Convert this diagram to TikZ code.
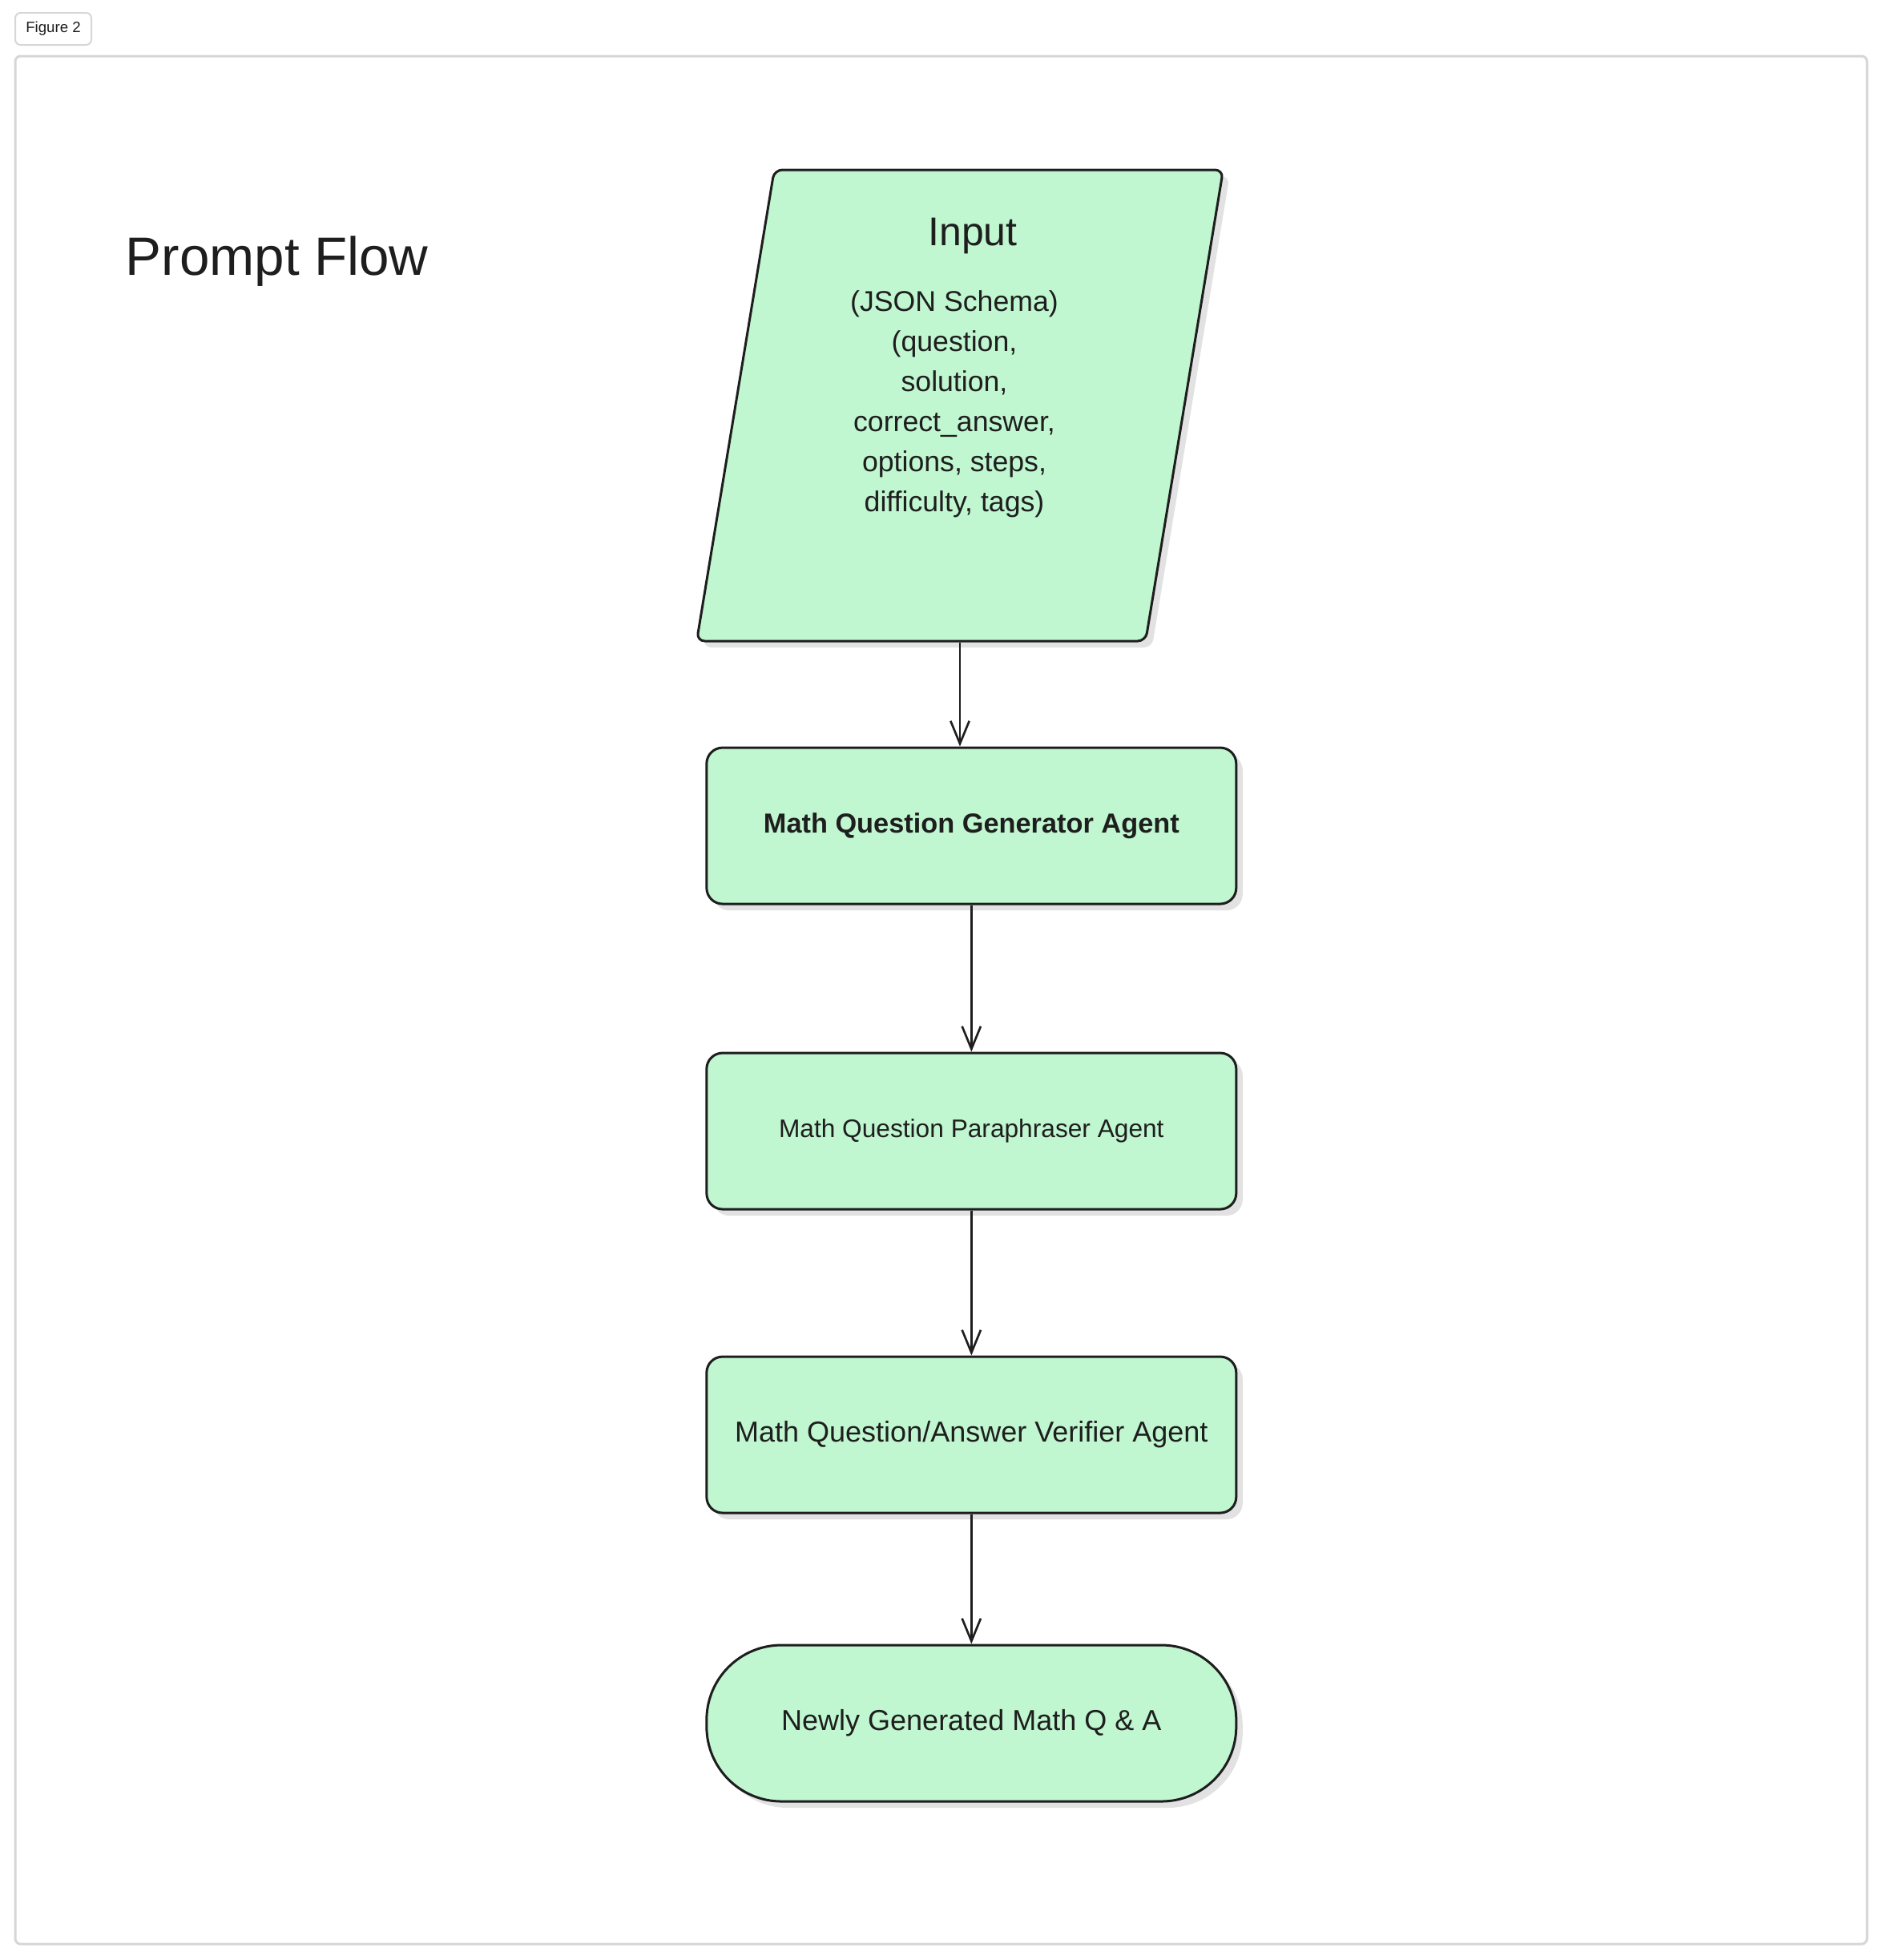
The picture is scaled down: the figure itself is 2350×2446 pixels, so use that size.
\documentclass[tikz,border=0pt]{standalone}
\usepackage{fontspec}
\setmainfont{Liberation Sans}
\usepackage{xcolor}
\usepackage{tikz}
\usetikzlibrary{arrows.meta,positioning,shapes.geometric,shadows}
\definecolor{mint}{HTML}{C0F6D0}
\definecolor{ink}{HTML}{1E1E1E}
\definecolor{framegray}{HTML}{D6D6D6}
\definecolor{shade}{HTML}{E2E2E2}
\tikzset{
  flowshadow/.style={
    drop shadow={shadow xshift=2.4pt, shadow yshift=-2.4pt, fill=shade, opacity=1}
  },
  flowbox/.style={
    rectangle, draw=ink, fill=mint, line width=0.9pt,
    rounded corners=6pt, flowshadow,
    minimum width=198.3pt, minimum height=58.5pt,
    align=center, text=ink, inner sep=4pt
  },
  inputbox/.style={
    trapezium, trapezium left angle=78.2, trapezium right angle=101.8,
    trapezium stretches=true,
    draw=ink, fill=mint, line width=0.9pt,
    rounded corners=3pt, flowshadow,
    minimum width=197.1pt, minimum height=176.4pt
  },
  endbox/.style={flowbox, rounded corners=28pt},
  flowarrow/.style={
    -{Straight Barb[length=8.5pt, width=7pt]}, line width=0.8pt, draw=ink
  },
  figtag/.style={
    rectangle, draw=framegray, line width=0.6pt, rounded corners=2pt,
    minimum width=28.5pt, minimum height=12pt, inner sep=1pt,
    font=\fontsize{5.6}{6.5}\selectfont, text=ink
  },
}

\begin{document}
\begin{tikzpicture}[x=0.3pt, y=-0.3pt]
\useasboundingbox (0,0) rectangle (2350,2446);

% frame and tag
\node[figtag] (tag) at (66.5,36) {Figure 2};
\draw[framegray, line width=0.9pt, rounded corners=2pt] (19,70) rectangle (2330,2426);

\node[anchor=base west, text=ink, font=\fontsize{20.2}{24}\selectfont]
  (title) at (145,343) {Prompt Flow};

% input
\node[inputbox] (in) at (1198,506) {};
\node[text=ink, font=\fontsize{15}{18}\selectfont] (inhead) at (1214,294) {Input};
\node[text=ink, align=center, font=\fontsize{10.7}{15}\selectfont]
  (inbody) at (1191,504) {(JSON Schema)\\(question,\\solution,\\correct\_answer,\\options, steps,\\ difficulty, tags)};

% agents
\node[flowbox, below=39pt of in, xshift=4.3pt,
      font=\fontsize{10.3}{12}\selectfont\bfseries] (gen) {Math Question Generator Agent};
\node[flowbox, below=54.9pt of gen,
      font=\fontsize{9.5}{11}\selectfont] (para) {Math Question Paraphraser Agent};
\node[flowbox, below=54.3pt of para,
      font=\fontsize{10.8}{12}\selectfont] (ver) {Math Question/Answer Verifier Agent};
\node[endbox, below=48.6pt of ver,
      font=\fontsize{10.8}{12}\selectfont] (out) {Newly Generated Math Q \& A};

\draw[flowarrow] (in.south) -- (in.south |- gen.north);
\draw[flowarrow] (gen) -- (para);
\draw[flowarrow] (para) -- (ver);
\draw[flowarrow] (ver) -- (out);

\end{tikzpicture}
\end{document}
